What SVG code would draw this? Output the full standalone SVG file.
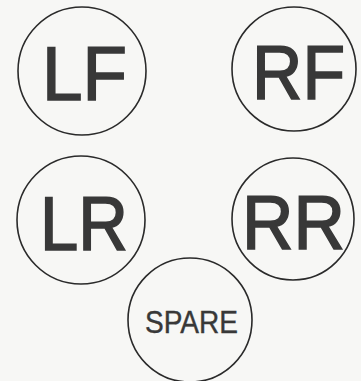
<svg xmlns="http://www.w3.org/2000/svg" width="361" height="381" viewBox="0 0 361 381">
<style>
.c{fill:none;stroke:#2a2a2a;stroke-width:1.6}
.t{font-family:"Liberation Sans",Arial,sans-serif;fill:#383838}
.b{font-size:76px;stroke:#383838;stroke-width:1.6}
.s{font-size:31px;stroke:#383838;stroke-width:0.4}
</style>
<rect width="361" height="381" fill="#f7f7f5"/>
<g id="LF"><circle class="c" cx="82" cy="71" r="64"/><text class="t b" x="42" y="100" textLength="85" lengthAdjust="spacingAndGlyphs">LF</text></g>
<g id="RF"><circle class="c" cx="294" cy="69" r="62"/><text class="t b" x="252" y="99" textLength="93" lengthAdjust="spacingAndGlyphs">RF</text></g>
<g id="LR"><circle class="c" cx="81" cy="220" r="64"/><text class="t b" x="40" y="250" textLength="88" lengthAdjust="spacingAndGlyphs">LR</text></g>
<g id="RR"><circle class="c" cx="293" cy="219" r="61"/><text class="t b" x="242" y="249" textLength="103" lengthAdjust="spacingAndGlyphs">RR</text></g>
<g id="SPARE"><circle class="c" cx="190" cy="320" r="62"/><text class="t s" x="145" y="333" textLength="93" lengthAdjust="spacingAndGlyphs">SPARE</text></g>
<g id="connectors"/>
</svg>
